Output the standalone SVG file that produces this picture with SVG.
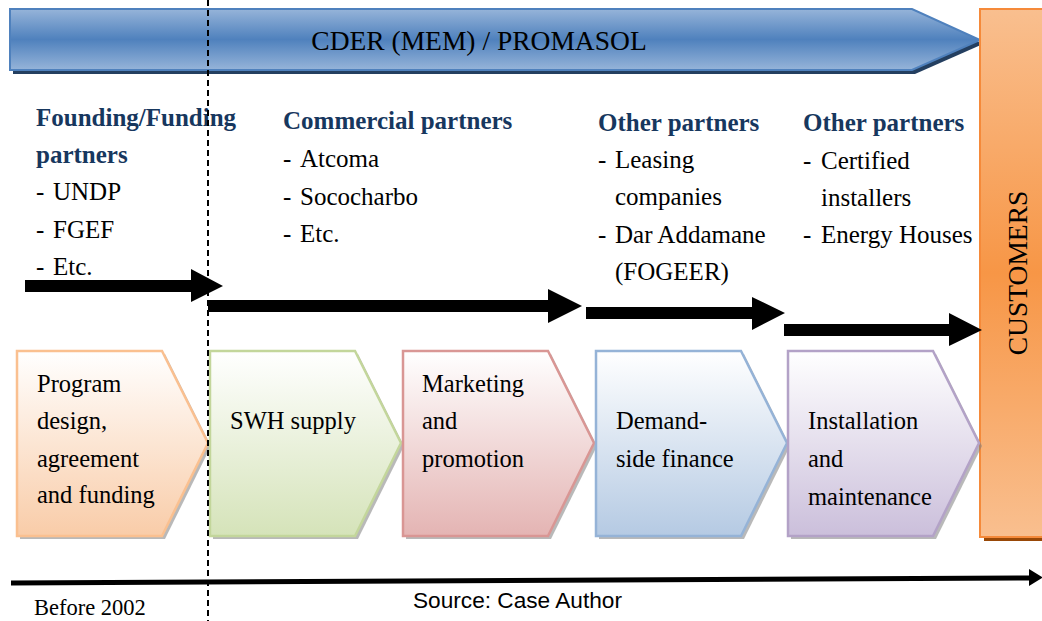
<svg xmlns="http://www.w3.org/2000/svg" width="1042" height="621" viewBox="0 0 1042 621">
  <defs>
    <linearGradient id="gBanner" x1="0" y1="0" x2="0" y2="1">
      <stop offset="0" stop-color="#96b4d9"/>
      <stop offset="0.5" stop-color="#4f81bd"/>
      <stop offset="1" stop-color="#96b4d9"/>
    </linearGradient>
    <linearGradient id="gCust" x1="0" y1="0" x2="0" y2="1">
      <stop offset="0" stop-color="#f9bf8f"/>
      <stop offset="0.5" stop-color="#f79646"/>
      <stop offset="1" stop-color="#f9bf8f"/>
    </linearGradient>
    <linearGradient id="gOrange" x1="0" y1="0" x2="0" y2="1">
      <stop offset="0" stop-color="#ffffff"/>
      <stop offset="1" stop-color="#f9cca8"/>
    </linearGradient>
    <linearGradient id="gGreen" x1="0" y1="0" x2="0" y2="1">
      <stop offset="0" stop-color="#ffffff"/>
      <stop offset="1" stop-color="#d5e3b9"/>
    </linearGradient>
    <linearGradient id="gRed" x1="0" y1="0" x2="0" y2="1">
      <stop offset="0" stop-color="#ffffff"/>
      <stop offset="1" stop-color="#e4b4b3"/>
    </linearGradient>
    <linearGradient id="gBlue" x1="0" y1="0" x2="0" y2="1">
      <stop offset="0" stop-color="#ffffff"/>
      <stop offset="1" stop-color="#b5cae3"/>
    </linearGradient>
    <linearGradient id="gPurple" x1="0" y1="0" x2="0" y2="1">
      <stop offset="0" stop-color="#ffffff"/>
      <stop offset="1" stop-color="#cbbfdb"/>
    </linearGradient>
    <!-- one chevron step, drawn at origin -->
    <polygon id="chev" points="0,0 145,0 191,92 145,185 0,185"/>
  </defs>
  <style>
    .serif { font-family: "Liberation Serif", "Times New Roman", serif; }
    .head { font-family: "Liberation Serif", "Times New Roman", serif; font-weight: bold; font-size: 25px; fill: #17375e; }
    .item { font-family: "Liberation Serif", "Times New Roman", serif; font-size: 25px; fill: #000; }
    .step { font-family: "Liberation Serif", "Times New Roman", serif; font-size: 24.5px; fill: #000; }
    .shadow { fill: #808080; opacity: 0.55; }
    .blk { fill: #000; }
  </style>

  <rect width="1042" height="621" fill="#ffffff"/>

  <!-- top banner -->
  <g id="banner">
    <polygon points="13,13 915,13 983,44 915,74 13,74" fill="#243f60"/>
    <polygon points="10,9 912,9 980,40 912,70 10,70" fill="url(#gBanner)" stroke="#4f81bd" stroke-width="2"/>
    <text class="serif" x="479" y="50" font-size="27.5" text-anchor="middle" fill="#000">CDER (MEM) / PROMASOL</text>
  </g>

  <!-- customers column -->
  <g id="customers">
    <rect x="984" y="13" width="70" height="528" fill="#984807"/>
    <rect x="980" y="9" width="70" height="528" fill="url(#gCust)" stroke="#f58a3a" stroke-width="2"/>
    <text class="serif" font-size="27.5" fill="#000" text-anchor="middle" transform="translate(1027,273) rotate(-90)">CUSTOMERS</text>
  </g>

  <!-- partner lists -->
  <g id="partners-funding">
    <text class="head" x="36" y="126">Founding/Funding</text>
    <text class="head" x="36" y="163">partners</text>
    <text class="item" x="36" y="200">-<tspan x="53">UNDP</tspan></text>
    <text class="item" x="36" y="238">-<tspan x="53">FGEF</tspan></text>
    <text class="item" x="36" y="275">-<tspan x="53">Etc.</tspan></text>
  </g>
  <g id="partners-commercial">
    <text class="head" x="283" y="129">Commercial partners</text>
    <text class="item" x="283" y="167">-<tspan x="300">Atcoma</tspan></text>
    <text class="item" x="283" y="205">-<tspan x="300">Sococharbo</tspan></text>
    <text class="item" x="283" y="242">-<tspan x="300">Etc.</tspan></text>
  </g>
  <g id="partners-finance">
    <text class="head" x="598" y="131">Other partners</text>
    <text class="item" x="598" y="168">-<tspan x="615">Leasing</tspan></text>
    <text class="item" x="615" y="205">companies</text>
    <text class="item" x="598" y="243">-<tspan x="615">Dar Addamane</tspan></text>
    <text class="item" x="615" y="280">(FOGEER)</text>
  </g>
  <g id="partners-install">
    <text class="head" x="803" y="131">Other partners</text>
    <text class="item" x="803" y="169">-<tspan x="821">Certified</tspan></text>
    <text class="item" x="821" y="206">installers</text>
    <text class="item" x="803" y="243">-<tspan x="821">Energy Houses</tspan></text>
  </g>

  <!-- value-chain steps -->
  <g id="step-design">
    <use href="#chev" x="20" y="354" class="shadow"/>
    <use href="#chev" x="17" y="351" fill="url(#gOrange)" stroke="#fac090" stroke-width="2.5"/>
    <text class="step" x="37" y="392">Program</text>
    <text class="step" x="37" y="429">design,</text>
    <text class="step" x="37" y="467">agreement</text>
    <text class="step" x="37" y="503">and funding</text>
  </g>
  <g id="step-supply">
    <use href="#chev" x="213" y="354" class="shadow"/>
    <use href="#chev" x="210" y="351" fill="url(#gGreen)" stroke="#c3d69b" stroke-width="2.5"/>
    <text class="step" x="230" y="429">SWH supply</text>
  </g>
  <g id="step-marketing">
    <use href="#chev" x="406" y="354" class="shadow"/>
    <use href="#chev" x="403" y="351" fill="url(#gRed)" stroke="#d99694" stroke-width="2.5"/>
    <text class="step" x="422" y="392">Marketing</text>
    <text class="step" x="422" y="429">and</text>
    <text class="step" x="422" y="467">promotion</text>
  </g>
  <g id="step-finance">
    <use href="#chev" x="599" y="354" class="shadow"/>
    <use href="#chev" x="596" y="351" fill="url(#gBlue)" stroke="#95b3d7" stroke-width="2.5"/>
    <text class="step" x="616" y="429">Demand-</text>
    <text class="step" x="616" y="467">side finance</text>
  </g>
  <g id="step-install">
    <use href="#chev" x="791" y="354" class="shadow"/>
    <use href="#chev" x="788" y="351" fill="url(#gPurple)" stroke="#b3a2c7" stroke-width="2.5"/>
    <text class="step" x="808" y="429">Installation</text>
    <text class="step" x="808" y="467">and</text>
    <text class="step" x="808" y="505">maintenance</text>
  </g>

  <!-- connectors: block arrows, time axis, 2002 divider -->
  <g id="connectors">
    <polygon class="blk" points="25,280 191,280 191,269 223,286 191,302 191,292 25,292"/>
    <polygon class="blk" points="208,300 548,300 548,289 582,306 548,323 548,312 208,312"/>
    <polygon class="blk" points="586,307 752,307 752,297 785,313 752,330 752,319 586,319"/>
    <polygon class="blk" points="784,324 949,324 949,313 982,330 949,346 949,336 784,336"/>
    <line x1="11" y1="583" x2="1031" y2="578" stroke="#000" stroke-width="5"/>
    <polygon class="blk" points="1029,569 1043,577.5 1029,586"/>
    <line x1="208" y1="0" x2="208" y2="621" stroke="#000" stroke-width="2" stroke-dasharray="6 4"/>
  </g>

  <!-- footer labels -->
  <g id="footer">
    <text class="serif" x="34" y="615" font-size="22.5" fill="#000">Before 2002</text>
    <text x="413" y="608" font-family="Liberation Sans, Arial, sans-serif" font-size="22" fill="#000" textLength="209" lengthAdjust="spacingAndGlyphs">Source: Case Author</text>
  </g>
</svg>
